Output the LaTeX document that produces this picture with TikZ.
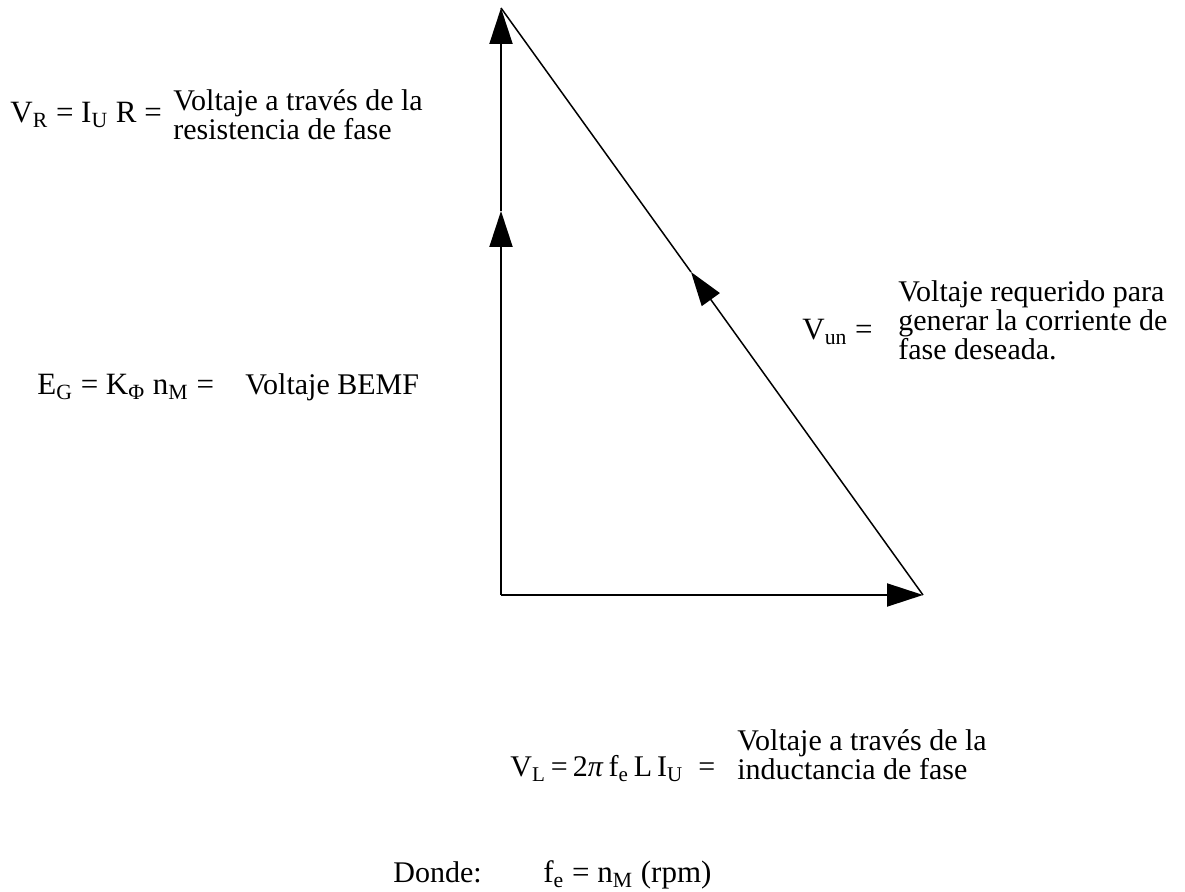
\documentclass[tikz,border=0pt]{standalone}
\usepackage{fontspec}
\setmainfont{Liberation Serif}
\usepackage{tikz}
\usetikzlibrary{arrows.meta,positioning}
\tikzset{
  eqn/.style={inner sep=0pt, anchor=base west, font=\fontsize{15.5}{15.5}\selectfont},
  desc/.style={inner sep=0pt, anchor=base west, align=left,
               font=\fontsize{15}{12.5}\selectfont},
  vec/.style={-{Triangle[length=18pt,width=11.5pt]}, line width=1pt}
}

\begin{document}
\begin{tikzpicture}[x=0.5pt, y=-0.5pt,
  hyp/.style={line width=0.75pt},
  hvec/.style={-{Triangle[length=17pt,width=11pt]}, line width=0.75pt}
]
\useasboundingbox (0,0) rectangle (1185,892);
% ---- phasor triangle ----
\coordinate (O) at (501,595);
\coordinate (T) at (501,8);
\coordinate (R) at (923,595);
\coordinate (M) at (501,211);
\coordinate (H) at (691,272);
\draw[vec] (O) -- (M);
\draw[vec] (M) -- (T);
\draw[vec] (O) -- (R);
\draw[hvec] (R) -- (H);
\draw[hyp] (H) -- (T);
% ---- resistive drop ----
\node[eqn] (eqR) at (10,123) {V\textsubscript{R} = I\textsubscript{U} R =};
\node[desc] (txtR) at (173,140) {Voltaje a través de la\\resistencia de fase};
% ---- back emf ----
\node[eqn] (eqG) at (37,395) {E\textsubscript{G} = K\textsubscript{Φ} n\textsubscript{M} =};
\node[desc] (txtG) at (245,395) {Voltaje BEMF};
% ---- required voltage ----
\node[eqn] (eqU) at (802,340) {V\textsubscript{un} =};
\node[desc] (txtU) at (898,360)
  {Voltaje requerido para\\generar la corriente de\\fase deseada.};
% ---- inductive drop ----
\node[eqn, font=\fontsize{15}{15}\selectfont] (eqL) at (510,777)
  {V\textsubscript{L}\,=\,2\textit{π}\,f\textsubscript{e}\,L\,I\textsubscript{U}\enspace=};
\node[desc] (txtL) at (737,780) {Voltaje a través de la\\inductancia de fase};
% ---- note ----
\node[desc] (donde) at (393,883) {Donde:};
\node[eqn] (eqF) at (543,883) {f\textsubscript{e} = n\textsubscript{M} (rpm)};
\end{tikzpicture}
\end{document}
